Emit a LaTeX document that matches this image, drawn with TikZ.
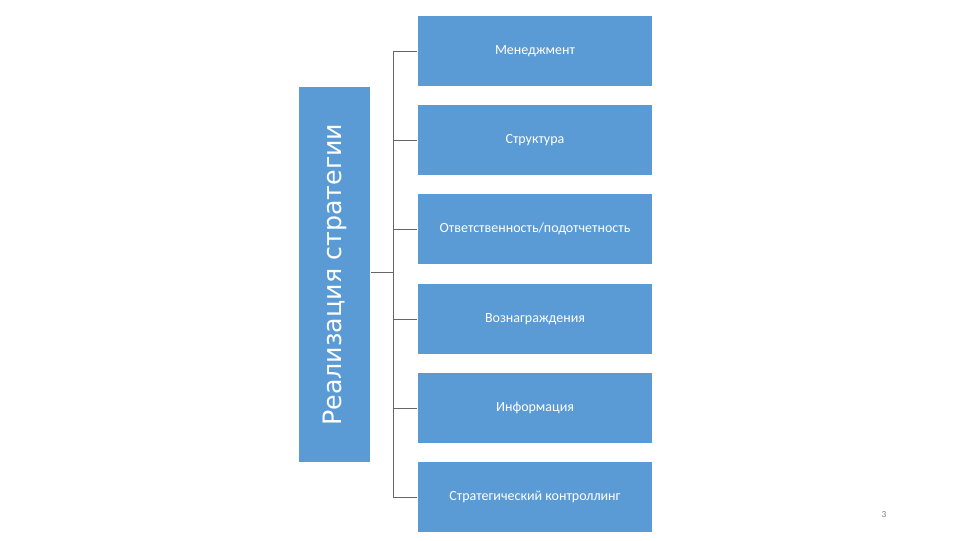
\documentclass[tikz,border=0pt]{standalone}
\usepackage{fontspec}
\setmainfont{Carlito}
\newfontfamily\dejavu{DejaVu Sans}
\begin{document}
\begin{tikzpicture}[x=0.75pt,y=-0.75pt,
  box/.style={fill=bblue,draw=white,line width=1pt,minimum width=176pt,minimum height=53pt,inner sep=0pt,text=white,font=\fontsize{10.5}{12}\selectfont,anchor=north west},
  conn/.style={draw=gray!80!black,line width=0.6pt}]
\definecolor{bblue}{HTML}{5B9BD5}
\useasboundingbox (0,0) rectangle (960,540);
\node[fill=bblue,draw=white,line width=1pt,minimum width=54pt,minimum height=282pt,inner sep=0pt,anchor=north west] (L) at (298,86) {};
\node[rotate=90,text=white,font=\dejavu\fontsize{19}{22}\selectfont] at (L.center) {Реализация стратегии};
\node[box] (b1) at (417,15) {Менеджмент};
\node[box] (b2) at (417,104) {Структура};
\node[box] (b3) at (417,193) {Ответственность/подотчетность};
\node[box] (b4) at (417,283) {Вознаграждения};
\node[box] (b5) at (417,372) {Информация};
\node[box] (b6) at (417,461) {Стратегический контроллинг};
\coordinate (j) at (393,272);
\draw[conn] (L.east |- j) -- (j);
\foreach \b in {b1,b2,b3,b4,b5,b6}{\draw[conn] (j |- \b.west) -- (\b.west);}
\draw[conn] (j |- b1.west) -- (j |- b6.west);
\node[font=\fontsize{7}{8}\selectfont,text=gray] (p) at (884,514) {3};
\end{tikzpicture}
\end{document}
